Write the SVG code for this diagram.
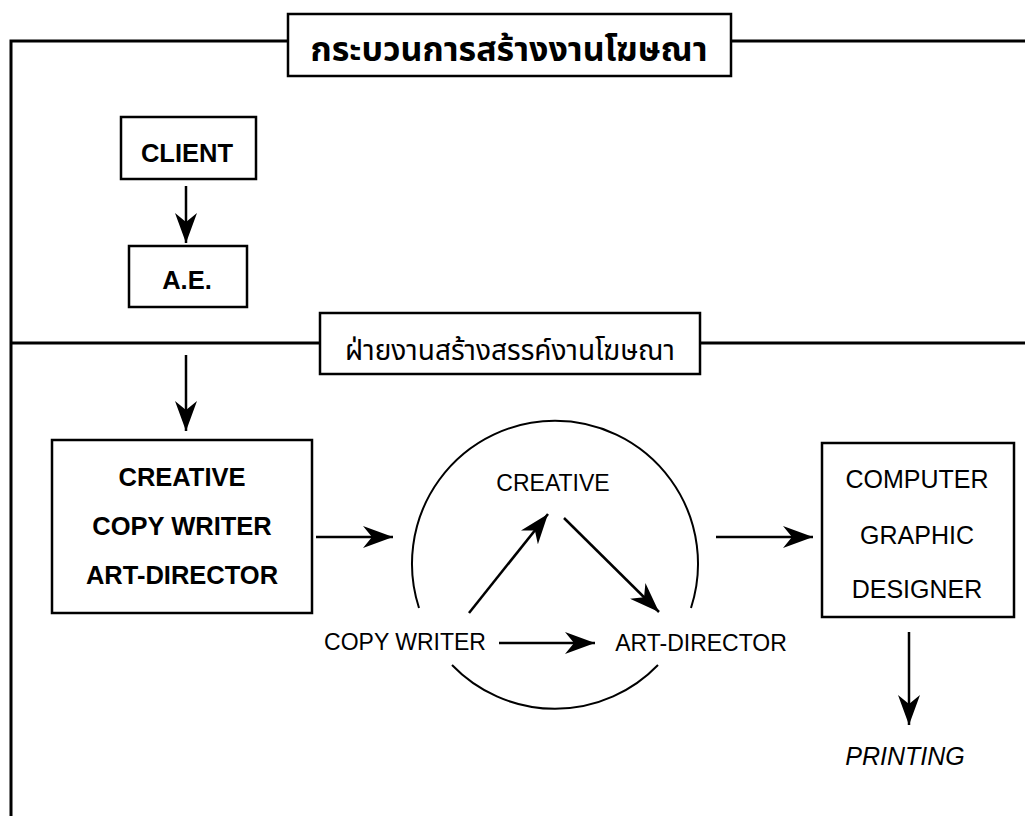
<svg xmlns="http://www.w3.org/2000/svg" width="1025" height="816" viewBox="0 0 1025 816">
<style>
.frame{stroke:#000;stroke-width:3;fill:none}
.box{stroke:#000;stroke-width:2.5;fill:#fff}
.conn{stroke:#000;stroke-width:2.5;fill:none}
.arc{stroke:#000;stroke-width:2;fill:none}
.t{font-family:"Liberation Sans",Arial,sans-serif;fill:#000;text-anchor:middle}
.b{font-weight:bold;font-size:25.5px}
.r{font-size:23px}
.c{font-size:25px}
.th{font-family:"Noto Sans Thai","Noto Sans","DejaVu Sans",sans-serif;fill:#000;text-anchor:middle}
</style>
<defs>
<marker id="ah" markerUnits="userSpaceOnUse" viewBox="0 0 30 22" refX="30" refY="11" markerWidth="30" markerHeight="22" orient="auto">
<path d="M0,0 L30,11 L0,22 L9,11 Z" fill="#000"/>
</marker>
</defs>
<rect width="1025" height="816" fill="#fff"/>
<g id="frame">
<path class="frame" d="M11,816 L11,41 L288,41 M731,41 L1025,41"/>
<path class="frame" d="M11,343 L320,343 M700,343 L1025,343"/>
</g>
<g id="title">
<rect class="box" x="288" y="14" width="443" height="62"/>
<text class="th" x="509" y="61" font-size="34" font-weight="bold">กระบวนการสร้างงานโฆษณา</text>
</g>
<g id="dept">
<rect class="box" x="320" y="313" width="380" height="61"/>
<text class="th" x="510" y="360" font-size="28">ฝ่ายงานสร้างสรรค์งานโฆษณา</text>
</g>
<g id="client">
<rect class="box" x="121" y="117" width="135" height="62"/>
<text class="t b" x="187" y="162">CLIENT</text>
</g>
<g id="ae">
<rect class="box" x="129" y="246" width="118" height="61"/>
<text class="t b" x="187" y="289">A.E.</text>
</g>
<g id="creative-team">
<rect class="box" x="52" y="440" width="260" height="173"/>
<text class="t b" x="182" y="486">CREATIVE</text>
<text class="t b" x="182" y="535">COPY WRITER</text>
<text class="t b" x="182" y="584">ART-DIRECTOR</text>
</g>
<g id="cycle">
<path class="arc" d="M419,608 A143,143 0 1 1 691,608"/>
<path class="arc" d="M452,665 A143,143 0 0 0 658,665"/>
<text class="t r" x="553" y="491">CREATIVE</text>
<text class="t r" x="405" y="650">COPY WRITER</text>
<text class="t r" x="701" y="651">ART-DIRECTOR</text>
</g>
<g id="computer">
<rect class="box" x="822" y="443" width="192" height="174"/>
<text class="t c" x="917" y="488">COMPUTER</text>
<text class="t c" x="917" y="544">GRAPHIC</text>
<text class="t c" x="917" y="598">DESIGNER</text>
</g>
<g id="printing">
<text class="t c" x="905" y="765" font-style="italic">PRINTING</text>
</g>
<g id="connectors">
<line class="conn" x1="186" y1="186" x2="186" y2="243" marker-end="url(#ah)"/>
<line class="conn" x1="186" y1="355" x2="186" y2="431" marker-end="url(#ah)"/>
<line class="conn" x1="316" y1="537" x2="393" y2="537" marker-end="url(#ah)"/>
<line class="conn" x1="469" y1="613" x2="548" y2="514" marker-end="url(#ah)"/>
<line class="conn" x1="564" y1="518" x2="659" y2="612" marker-end="url(#ah)"/>
<line class="conn" x1="499" y1="643" x2="595" y2="643" marker-end="url(#ah)"/>
<line class="conn" x1="716" y1="537" x2="813" y2="537" marker-end="url(#ah)"/>
<line class="conn" x1="909" y1="632" x2="909" y2="725" marker-end="url(#ah)"/>
</g>
</svg>
